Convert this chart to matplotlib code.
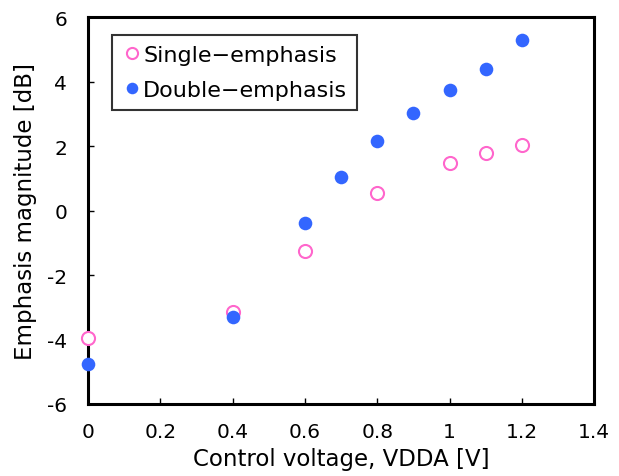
import matplotlib
matplotlib.use("Agg")
import matplotlib.pyplot as plt

plt.rcParams['font.family'] = ['DejaVu Sans']

single_x = [0, 0.4, 0.6, 0.8, 1.0, 1.1, 1.2]
single_y = [-3.95, -3.15, -1.26, 0.54, 1.47, 1.78, 2.04]
double_x = [0, 0.4, 0.6, 0.7, 0.8, 0.9, 1.0, 1.1, 1.2]
double_y = [-4.76, -3.30, -0.39, 1.04, 2.16, 3.02, 3.74, 4.39, 5.28]

xticks = [0, 0.2, 0.4, 0.6, 0.8, 1.0, 1.2, 1.4]
xticklabels = ["0", "0.2", "0.4", "0.6", "0.8", "1", "1.2", "1.4"]
yticks = [-6, -4, -2, 0, 2, 4, 6]
yticklabels = ["-6", "-4", "-2", "0", "2", "4", "6"]

fig = plt.figure(figsize=(6.19, 4.77), dpi=100)
ax = fig.add_axes([0.142, 0.151, 0.818, 0.811])

ax.plot(single_x, single_y, linestyle='none', marker='o', markersize=9.4,
        markerfacecolor='white', markeredgecolor='#FF66CC', markeredgewidth=1.5,
        label='Single\u2212emphasis', clip_on=False, zorder=3)
ax.plot(double_x, double_y, linestyle='none', marker='o', markersize=9.8,
        markerfacecolor='#3366FF', markeredgecolor='#3366FF', markeredgewidth=0,
        label='Double\u2212emphasis', clip_on=False, zorder=4)

ax.set_xlim(0, 1.4)
ax.set_ylim(-6, 6)
ax.set_xticks(xticks)
ax.set_xticklabels(xticklabels)
ax.set_yticks(yticks)
ax.set_yticklabels(yticklabels)
ax.tick_params(direction='in', length=4, width=1, labelsize=14.5)
ax.tick_params(axis='x', pad=13)
ax.tick_params(axis='y', pad=15)
for s in ax.spines.values():
    s.set_linewidth(2.2)

ax.set_xlabel('Control voltage, VDDA [V]', fontsize=16.5, labelpad=4)
ax.set_ylabel('Emphasis magnitude [dB]', fontsize=16.5, labelpad=7)

leg = ax.legend(loc='upper left', bbox_to_anchor=(0.047, 0.953), fontsize=16,
                frameon=True, fancybox=False, edgecolor='black',
                handletextpad=0.0, borderpad=0.42, handlelength=1.0, labelspacing=0.7,
                borderaxespad=0, markerscale=0.85)
leg.get_frame().set_linewidth(1.5)

fig.savefig('out.png', dpi=100)
